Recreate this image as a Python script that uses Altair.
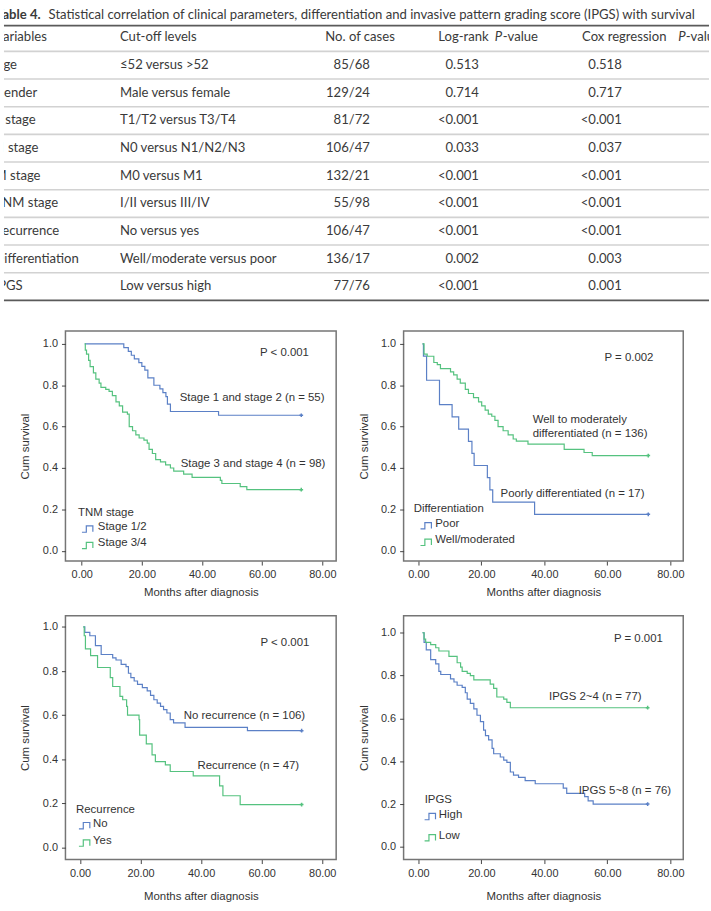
import altair as alt
import pandas as pd

# ---------------- table content ----------------
title_bold = "Table 4."
title_text = ("Statistical correlation of clinical parameters, differentiation and "
              "invasive pattern grading score (IPGS) with survival")
hdr_variables = "Variables"
hdr_cutoff = "Cut-off levels"
hdr_cases = "No. of cases"
hdr_logrank = ["Log-rank ", "P", "-value"]
hdr_cox = ["Cox regression ", "P", "-value"]

variables = ["Age", "Gender", "T stage", "N stage", "M stage", "TNM stage",
             "Recurrence", "Differentiation", "IPGS"]
cutoffs = ["\u226452 versus >52", "Male versus female", "T1/T2 versus T3/T4",
           "N0 versus N1/N2/N3", "M0 versus M1", "I/II versus III/IV",
           "No versus yes", "Well/moderate versus poor", "Low versus high"]
cases = ["85/68", "129/24", "81/72", "106/47", "132/21", "55/98", "106/47",
         "136/17", "77/76"]
logrank = ["0.513", "0.714", "<0.001", "0.033", "<0.001", "<0.001", "<0.001",
           "0.002", "<0.001"]
cox = ["0.518", "0.717", "<0.001", "0.037", "<0.001", "<0.001", "<0.001",
       "0.003", "0.001"]

# ---------------- survival curves ----------------
tnm12_t = [1.0, 14.0, 15.5, 16.5, 17.5, 19.0, 20.0, 21.0, 22.0, 24.0, 26.0, 27.0,
           28.0, 28.5, 29.5, 45.5, 73.0]
tnm12_s = [1.0, 0.982, 0.964, 0.945, 0.927, 0.909, 0.891, 0.873, 0.836, 0.800,
           0.782, 0.764, 0.745, 0.709, 0.673, 0.655, 0.655]
tnm34_t = [1.0, 1.2, 1.6, 2.3, 2.8, 3.9, 4.7, 5.8, 6.4, 8.0, 9.1, 10.2, 11.4, 12.5,
           13.6, 15.2, 15.8, 16.9, 18.0, 19.1, 20.7, 21.8, 22.4, 23.5, 24.6, 26.2,
           27.9, 29.5, 30.6, 33.9, 36.7, 46.1, 46.6, 52.7, 54.9, 73.0]
tnm34_s = [1.0, 0.97, 0.95, 0.92, 0.89, 0.86, 0.83, 0.81, 0.79, 0.78, 0.77, 0.75,
           0.72, 0.70, 0.67, 0.66, 0.60, 0.58, 0.56, 0.545, 0.535, 0.52, 0.49, 0.47,
           0.44, 0.43, 0.415, 0.40, 0.385, 0.37, 0.355, 0.34, 0.325, 0.31, 0.295,
           0.295]

poor_t = [1.3, 1.6, 2.6, 6.7, 10.7, 12.8, 15.9, 17.0, 17.7, 21.9, 22.7, 23.6,
          36.9, 73.0]
poor_s = [1.0, 0.941, 0.824, 0.706, 0.647, 0.588, 0.529, 0.471, 0.412, 0.353,
          0.294, 0.235, 0.176, 0.176]
well_t = [1.3, 1.8, 2.8, 4.9, 6.0, 7.0, 10.2, 11.2, 12.3, 13.3, 14.9, 15.9, 17.5,
          19.1, 20.1, 21.2, 22.2, 23.3, 24.3, 25.3, 26.9, 28.5, 30.1, 31.1, 34.8,
          46.3, 52.6, 55.2, 73.0]
well_s = [1.0, 0.95, 0.94, 0.91, 0.90, 0.88, 0.865, 0.85, 0.83, 0.81, 0.78, 0.76,
          0.74, 0.72, 0.70, 0.68, 0.66, 0.65, 0.63, 0.60, 0.58, 0.56, 0.54, 0.53,
          0.515, 0.49, 0.475, 0.46, 0.46]

norec_t = [1.1, 1.6, 3.25, 5.1, 7.0, 10.8, 11.9, 13.6, 15.2, 16.0, 16.8, 17.9,
           19.0, 20.6, 22.2, 23.3, 24.4, 25.5, 26.6, 27.6, 28.7, 29.8, 30.9, 34.7,
           55.3, 73.2]
norec_s = [1.0, 0.975, 0.96, 0.915, 0.875, 0.86, 0.85, 0.83, 0.82, 0.79, 0.77,
           0.755, 0.74, 0.725, 0.71, 0.69, 0.67, 0.655, 0.64, 0.625, 0.61, 0.58,
           0.565, 0.545, 0.53, 0.53]
rec_t = [1.1, 1.4, 1.8, 3.5, 5.8, 10.0, 10.8, 13.2, 14.1, 15.4, 15.7, 19.5, 19.7,
         21.9, 23.8, 24.9, 28.2, 29.8, 37.4, 46.1, 47.2, 52.9, 73.2]
rec_s = [1.0, 0.96, 0.90, 0.87, 0.816, 0.77, 0.73, 0.685, 0.67, 0.64, 0.60, 0.58,
         0.51, 0.47, 0.42, 0.39, 0.375, 0.345, 0.325, 0.28, 0.235, 0.195, 0.195]

low_t = [1.3, 1.8, 2.3, 3.9, 5.5, 6.5, 9.7, 12.3, 13.4, 13.9, 15.5, 16.5, 17.6,
         22.8, 23.9, 24.9, 27.1, 28.1, 29.2, 72.8]
low_s = [1.0, 0.97, 0.955, 0.945, 0.93, 0.915, 0.89, 0.86, 0.84, 0.82, 0.81, 0.80,
         0.78, 0.76, 0.74, 0.70, 0.69, 0.675, 0.65, 0.65]
high_t = [1.3, 1.8, 2.5, 3.9, 5.5, 6.5, 7.1, 10.2, 11.3, 12.3, 13.9, 14.9, 15.5,
          16.5, 17.6, 18.6, 19.7, 20.7, 21.3, 22.3, 23.4, 23.9, 26.0, 27.1, 28.1,
          29.2, 30.2, 31.8, 33.9, 37.1, 46.0, 47.1, 52.8, 53.9, 55.5, 72.8]
high_s = [1.0, 0.955, 0.92, 0.875, 0.855, 0.82, 0.805, 0.785, 0.77, 0.755, 0.745,
          0.72, 0.69, 0.67, 0.645, 0.615, 0.585, 0.545, 0.52, 0.50, 0.46, 0.435,
          0.42, 0.405, 0.395, 0.35, 0.335, 0.325, 0.31, 0.295, 0.275, 0.25, 0.235,
          0.215, 0.20, 0.20]

x_ticks = [0, 20, 40, 60, 80]
y_ticks = [0.0, 0.2, 0.4, 0.6, 0.8, 1.0]

BLUE = "#5b80c6"
GREEN = "#55c27f"
TXT = "#333333"
TFONT = "Lato"
PFONT = "Liberation Sans"

# ---------------- table chart ----------------
TW, TH = 711, 300
ROW0, PITCH = 33.0, 27.9
ydom = [-ROW0 / PITCH, (TH - ROW0) / PITCH]
yscale = alt.Scale(domain=ydom, reverse=True, nice=False, zero=False)


def tcol(texts, rows, xpos, align="left", weight="normal", style="normal", size=13.2):
    df = pd.DataFrame({"r": rows, "label": texts})
    return alt.Chart(df).mark_text(
        align=align, baseline="middle", font=TFONT, fontSize=size, color="#3a3a3a",
        fontWeight=weight, fontStyle=style, clip=True
    ).encode(
        x=alt.value(xpos),
        y=alt.Y("r:Q", scale=yscale, axis=None),
        text="label:N",
    )


rows = list(range(1, len(variables) + 1))
t_layers = [
    tcol([title_bold], [-0.82], -8, weight="bold"),
    tcol([title_text], [-0.82], 45),
    tcol([hdr_variables], [0], -9),
    tcol([hdr_cutoff], [0], 117),
    tcol([hdr_cases], [0], 324),
    tcol([hdr_logrank[0]], [0], 438),
    tcol([hdr_logrank[1]], [0], 495, style="italic"),
    tcol([hdr_logrank[2]], [0], 503),
    tcol([hdr_cox[0]], [0], 583),
    tcol([hdr_cox[1]], [0], 680, style="italic"),
    tcol([hdr_cox[2]], [0], 687.5),
    tcol(variables, rows, -9.5),
    tcol(cutoffs, rows, 117),
    tcol(cases, rows, 369, align="right"),
    tcol(logrank, rows, 479, align="right"),
    tcol(cox, rows, 623, align="right"),
]
thin_lines = pd.DataFrame({"r": [0.5] + [i + 0.5 for i in range(1, len(variables))]})
thick_lines = pd.DataFrame({"r": [-0.43, len(variables) + 0.5]})
rules_thin = alt.Chart(thin_lines).mark_rule(color="#d2d2d2", strokeWidth=1.6).encode(
    y=alt.Y("r:Q", scale=yscale, axis=None))
rules_thick = alt.Chart(thick_lines).mark_rule(color="#5a5a5a", strokeWidth=1.6).encode(
    y=alt.Y("r:Q", scale=yscale, axis=None))
table = alt.layer(rules_thin, rules_thick, *t_layers).properties(width=TW, height=TH)

# ---------------- KM panels ----------------
GLYPH = "M-1,0.55L-0.2,0.55L-0.2,-0.6L1,-0.6L1,0.45"


def panel(series, annots, leg_title, leg_pos, xdom, ydom_, w, h, xtp, ytp):
    xenc = alt.X("t:Q", scale=alt.Scale(domain=xdom, nice=False, zero=False),
                 axis=alt.Axis(values=x_ticks, format=".2f",
                               title="Months after diagnosis", titlePadding=xtp))
    yenc = alt.Y("s:Q", scale=alt.Scale(domain=ydom_, nice=False, zero=False),
                 axis=alt.Axis(values=y_ticks, format=".1f", title="Cum survival",
                               titlePadding=ytp))
    names = [s[0] for s in series]
    colors = [s[3] for s in series]
    cscale = alt.Scale(domain=names, range=colors)
    recs, ends = [], []
    for name, ts, ss, _c in series:
        for t, s in zip(ts, ss):
            recs.append({"grp": name, "t": t, "s": s})
        ends.append({"grp": name, "t": ts[-1], "s": ss[-1]})
    lines = alt.Chart(pd.DataFrame(recs)).mark_line(
        interpolate="step-after", strokeWidth=1.2).encode(
        x=xenc, y=yenc, color=alt.Color("grp:N", scale=cscale, legend=None))
    cens = alt.Chart(pd.DataFrame(ends)).mark_point(
        shape="cross", filled=True, size=14, opacity=1).encode(
        x=xenc, y=yenc, color=alt.Color("grp:N", scale=cscale, legend=None))
    ann = alt.Chart(pd.DataFrame(annots, columns=["label", "t", "s"])).mark_text(
        align="left", baseline="middle", font=PFONT, fontSize=11.5, color=TXT).encode(
        x=xenc, y=yenc, text="label:N")
    gx, tx, ty_title, tx_title, ys = leg_pos
    leg_txt = pd.DataFrame(
        [[leg_title, tx_title, ty_title]] +
        [[n, tx, y] for n, y in zip(names, ys)], columns=["label", "t", "s"])
    legt = alt.Chart(leg_txt).mark_text(
        align="left", baseline="middle", font=PFONT, fontSize=11.5, color=TXT).encode(
        x=xenc, y=yenc, text="label:N")
    leg_g = pd.DataFrame({"grp": names, "t": [gx] * len(names),
                          "s": [y - 0.01 for y in ys]})
    legg = alt.Chart(leg_g).mark_point(
        shape=GLYPH, filled=False, size=121, strokeWidth=1.2, opacity=1).encode(
        x=xenc, y=yenc, color=alt.Color("grp:N", scale=cscale, legend=None))
    return alt.layer(lines, cens, ann, legt, legg).properties(
        width=w, height=h, view=alt.ViewBackground(stroke="#757575", strokeWidth=1.5))


p1 = panel(
    [("Stage 1/2", tnm12_t, tnm12_s, BLUE), ("Stage 3/4", tnm34_t, tnm34_s, GREEN)],
    [["P < 0.001", 59.3, 0.957], ["Stage 1 and stage 2 (n = 55)", 32.6, 0.738],
     ["Stage 3 and stage 4 (n = 98)", 32.9, 0.42]],
    "TNM stage", (1.9, 5.35, 0.183, -1.2, [0.114, 0.035]),
    [-5.4, 84.6], [-0.05, 1.062], 273, 232, 7, 12)
p2 = panel(
    [("Poor", poor_t, poor_s, BLUE), ("Well/moderated", well_t, well_s, GREEN)],
    [["P = 0.002", 59.1, 0.93], ["Well to moderately", 36.3, 0.63],
     ["differentiated  (n = 136)", 36.3, 0.563],
     ["Poorly differentiated  (n = 17)", 26.1, 0.273]],
    "Differentiation", (2.4, 5.35, 0.20, -1.5, [0.13, 0.05]),
    [-4.7, 84.1], [-0.05, 1.062], 282, 232, 7, 11)
p3 = panel(
    [("No", norec_t, norec_s, BLUE), ("Yes", rec_t, rec_s, GREEN)],
    [["P < 0.001", 59.6, 0.928], ["No recurrence (n = 106)", 34.3, 0.596],
     ["Recurrence (n = 47)", 38.8, 0.371]],
    "Recurrence", (1.45, 4.3, 0.172, -1.3, [0.109, 0.03]),
    [-4.8, 84.6], [-0.054, 1.051], 273, 246, 12, 12)
p4 = panel(
    [("High", high_t, high_s, BLUE), ("Low", low_t, low_s, GREEN)],
    [["P = 0.001", 62.1, 0.969], ["IPGS 2~4 (n = 77)", 41.5, 0.70],
     ["IPGS 5~8 (n = 76)", 50.9, 0.262]],
    "IPGS", (3.7, 6.5, 0.219, 2.0, [0.151, 0.052]),
    [-4.7, 84.1], [-0.059, 1.08], 282, 246, 12, 11)

grid = alt.concat(p1, p2, p3, p4, columns=2, spacing={"row": 55, "column": 68},
                  bounds="flush")
spacer = alt.Chart(pd.DataFrame({"a": [0]})).mark_point(opacity=0).encode(
    x=alt.value(0), y=alt.value(0)).properties(width=1, height=1)
bottom = alt.hconcat(spacer, grid, spacing=61, bounds="flush")

chart = alt.vconcat(table, bottom, spacing=29, bounds="flush").properties(
    padding=0, background="white"
).configure_view(stroke="transparent").configure_axis(
    labelFont=PFONT, labelFontSize=11, labelColor=TXT, titleFont=PFONT,
    titleFontSize=11.5, titleFontWeight="normal", titleColor=TXT,
    tickColor="#444444", tickSize=4, tickWidth=1, domain=False, grid=False,
    labelPadding=4
)

chart.save("out.html", embed_options={"renderer": "svg", "actions": False})
